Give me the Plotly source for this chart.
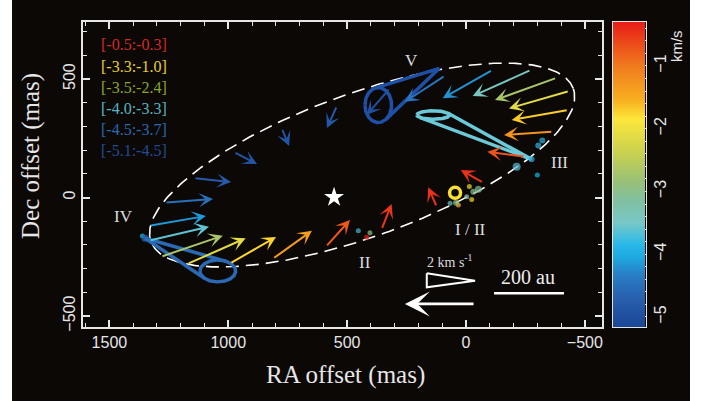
import numpy as np
import plotly.graph_objects as go

# ---------------- data ----------------
ARROW_TAIL_RA = [976, 1144, 1266, 1332, 1333, 1283, 1173, 993, 813, 590, 775, 543,
                 320, 88, -111, -273, -381, -434, -430, -365, -248, -73, 123, 355]
ARROW_TAIL_DEC = [192, 82, -22, -119, -182, -250, -281, -278, -259, -208, 292, 386,
                  461, 514, 538, 538, 505, 449, 369, 278, 172, 62, -39, -134]
ARROW_HEAD_RA = [879, 988, 1064, 1094, 1081, 1023, 927, 799, 648, 488, 744, 585,
                 418, 257, 98, -28, -122, -181, -192, -160, -90, 22, 159, 313]
ARROW_HEAD_DEC = [141, 65, -6, -78, -123, -161, -172, -167, -140, -95, 217, 293,
                  348, 404, 419, 428, 411, 376, 327, 264, 193, 116, 43, -27]
ARROW_VLSR = [-4.9, -4.8, -4.5, -4.15, -3.6, -2.7, -2.1, -1.75, -1.35, -0.75, -4.9, -4.85,
              -5.0, -4.45, -4.2, -3.4, -2.7, -2.1, -1.7, -1.25, -0.7, -0.45, -0.45, -0.5]

DOT_RA = [-321, -304, -300, -213, -276, 453, 404, 418, 1361, 1350,
          -14, -24, 32, 67, 42, -52, -31, -3]
DOT_DEC = [240, 219, 95, 130, 161, -140, -149, -168, -162, -172,
           46, -8, -32, -24, -22, 35, 24, 3]
DOT_COLOR = ["#30b0e0", "#30b0e0", "#10b8ea", "#58b8d0", "#30a8d8", "#40b8d8", "#90c080",
             "#e82018", "#10c0f0", "#2a6ab5", "#f0d830", "#f0d830", "#f0b828", "#6cc0c0",
             "#90c080", "#80b890", "#88c090", "#90c8b0"]
DOT_SIZE = [6, 6, 5, 8, 6, 5, 5, 5, 5, 7, 5, 5, 5, 5, 6, 7, 6, 5]

RING_RA, RING_DEC = [46], [20]
STAR_RA, STAR_DEC = [555], [1]

# loops: centre RA, centre Dec, half-width (mas), half-height (mas), tip RA, tip Dec, colour
LOOP_NAMES = ["V", "III", "IV"]
LOOP_CRA = [369, 138, 1044]
LOOP_CDEC = [390, 348, -310]
LOOP_RX = [56, 69, 75]
LOOP_RY = [74, 18, 46]
LOOP_TIP_RA = [112, -276, 1350]
LOOP_TIP_DEC = [545, 161, -172]
LOOP_COLOR = ["#1f50a8", "#6ccad8", "#2a6ab5"]

# fitted ring (dashed ellipse)
RING_CENTER = (437, 137)
RING_SEMI_AXES = (945, 302)
RING_PA_DEG = 20

REGION_LABELS = ["V", "III", "IV", "II", "I / II"]
REGION_RA = [228, -395, 1441, 425, -17]
REGION_DEC = [580, 148, -81, -273, -133]

LEGEND_LABELS = ["[-0.5:-0.3]", "[-3.3:-1.0]", "[-3.5:-2.4]", "[-4.0:-3.3]", "[-4.5:-3.7]", "[-5.1:-4.5]"]
LEGEND_COLORS = ["#d42a20", "#e6d22c", "#8aa628", "#5ab4c4", "#2a6ab4", "#214c94"]

CBAR_MIN, CBAR_MAX = -5.16, -0.30
CS_V = [-5.16, -4.7, -4.35, -4.05, -3.85, -3.5, -3.15, -2.85, -2.4, -1.85, -1.55, -1.0, -0.65, -0.30]
CS_RGB = [(26, 70, 150), (40, 96, 174), (42, 124, 196), (30, 168, 224), (40, 184, 232),
          (120, 200, 200), (128, 192, 160), (152, 192, 120), (200, 208, 80), (252, 230, 58),
          (248, 176, 32), (240, 122, 30), (236, 76, 26), (232, 28, 24)]

X_RANGE = [1611, -572]
Y_RANGE = [-546.4, 740.5]

# ---------------- helpers ----------------
colorscale = [[(v - CBAR_MIN) / (CBAR_MAX - CBAR_MIN), "rgb(%d,%d,%d)" % c] for v, c in zip(CS_V, CS_RGB)]
colorscale[0][0] = 0.0
colorscale[-1][0] = 1.0


def vel_color(v):
    r = np.interp(v, CS_V, [c[0] for c in CS_RGB])
    g = np.interp(v, CS_V, [c[1] for c in CS_RGB])
    b = np.interp(v, CS_V, [c[2] for c in CS_RGB])
    return "rgb(%d,%d,%d)" % (round(r), round(g), round(b))


SERIF = "Liberation Serif, Times New Roman, serif"
SANS = "Liberation Sans, Arial, sans-serif"
BG = "#0c0806"
FG = "#e6e6e6"

fig = go.Figure()

# dashed ellipse
t = np.linspace(0, 2 * np.pi, 400)
th = np.radians(RING_PA_DEG)
a, b = RING_SEMI_AXES
ex = RING_CENTER[0] - (a * np.cos(th) * np.cos(t) - b * np.sin(th) * np.sin(t))
ey = RING_CENTER[1] + (a * np.sin(th) * np.cos(t) + b * np.cos(th) * np.sin(t))
fig.add_trace(go.Scatter(x=ex, y=ey, mode="lines", line=dict(color="white", width=1.6, dash="13px,7px"),
                         hoverinfo="skip", showlegend=False))

# teardrop loops
for i in range(len(LOOP_NAMES)):
    tt = np.linspace(0, 2 * np.pi, 200)
    lx = LOOP_CRA[i] + LOOP_RX[i] * np.cos(tt)
    ly = LOOP_CDEC[i] + LOOP_RY[i] * np.sin(tt)
    tx, ty = LOOP_TIP_RA[i], LOOP_TIP_DEC[i]
    ang_c = np.arctan2(LOOP_CDEC[i] - ty, LOOP_CRA[i] - tx)
    ang = np.angle(np.exp(1j * (np.arctan2(ly - ty, lx - tx) - ang_c)))
    i1, i2 = int(np.argmax(ang)), int(np.argmin(ang))
    xs = list(lx) + [None, tx, lx[i1], None, tx, lx[i2]]
    ys = list(ly) + [None, ty, ly[i1], None, ty, ly[i2]]
    fig.add_trace(go.Scatter(x=xs, y=ys, mode="lines", line=dict(color=LOOP_COLOR[i], width=3.5),
                             hoverinfo="skip", showlegend=False))

# dots
fig.add_trace(go.Scatter(x=DOT_RA, y=DOT_DEC, mode="markers",
                         marker=dict(color=DOT_COLOR, size=DOT_SIZE, line=dict(width=0)),
                         hoverinfo="skip", showlegend=False))
fig.add_trace(go.Scatter(x=RING_RA, y=RING_DEC, mode="markers",
                         marker=dict(symbol="circle-open", size=11, color="#f8e030", line=dict(width=3.5)),
                         hoverinfo="skip", showlegend=False))
fig.add_trace(go.Scatter(x=STAR_RA, y=STAR_DEC, mode="markers",
                         marker=dict(symbol="star", size=15, color="white", line=dict(width=0)),
                         hoverinfo="skip", showlegend=False))

# scale items: triangle, 200 au bar
TRI_RA = [165, 165, -38, 165]
TRI_DEC = [-320, -379, -351, -320]
fig.add_trace(go.Scatter(x=TRI_RA, y=TRI_DEC, mode="lines", line=dict(color="white", width=2),
                         hoverinfo="skip", showlegend=False))
BAR_RA = [-118, -412]
BAR_DEC = [-404, -404]
fig.add_trace(go.Scatter(x=BAR_RA, y=BAR_DEC, mode="lines", line=dict(color="white", width=2.6),
                         hoverinfo="skip", showlegend=False))

# colorbar carrier
fig.add_trace(go.Scatter(x=ARROW_TAIL_RA, y=ARROW_TAIL_DEC, mode="markers",
                         marker=dict(color=ARROW_VLSR, colorscale=colorscale, cmin=CBAR_MIN, cmax=CBAR_MAX,
                                     size=1, opacity=0,
                                     showscale=True,
                                     colorbar=dict(x=0.8943, xanchor="left", xpad=0, ypad=0,
                                                   y=0.5, yanchor="middle", len=1, lenmode="fraction",
                                                   thickness=32.4, thicknessmode="pixels",
                                                   outlinewidth=0, ticks="", showticklabels=False)),
                         hoverinfo="skip", showlegend=False))
# axis carrying the colorbar ticks
fig.add_trace(go.Scatter(x=[0.5], y=[-3], xaxis="x2", yaxis="y2", mode="markers",
                         marker=dict(size=1, opacity=0), hoverinfo="skip", showlegend=False))

annotations = []
for i in range(len(ARROW_VLSR)):
    annotations.append(dict(x=ARROW_HEAD_RA[i], y=ARROW_HEAD_DEC[i], ax=ARROW_TAIL_RA[i], ay=ARROW_TAIL_DEC[i],
                            xref="x", yref="y", axref="x", ayref="y", text="", showarrow=True,
                            arrowhead=3, arrowsize=1.2, arrowwidth=2, standoff=0,
                            arrowcolor=vel_color(ARROW_VLSR[i])))
# white reference arrow
SCALE_ARROW_TAIL = (-38, -449)
SCALE_ARROW_HEAD = (257, -449)
annotations.append(dict(x=SCALE_ARROW_HEAD[0], y=SCALE_ARROW_HEAD[1], ax=SCALE_ARROW_TAIL[0], ay=SCALE_ARROW_TAIL[1],
                        xref="x", yref="y", axref="x", ayref="y", text="", showarrow=True,
                        arrowhead=3, arrowsize=1.6, arrowwidth=2.6, standoff=0, arrowcolor="white"))

for lab, xr, yr in zip(REGION_LABELS, REGION_RA, REGION_DEC):
    annotations.append(dict(x=xr, y=yr, xref="x", yref="y", text=lab, showarrow=False,
                            xanchor="center", yanchor="middle",
                            font=dict(family=SERIF, size=17, color="#dcdcdc")))
annotations.append(dict(x=67, y=-268, xref="x", yref="y", text="2 km s<sup>-1</sup>", showarrow=False,
                        xanchor="center", yanchor="middle",
                        font=dict(family=SERIF, size=14, color="#dcdcdc")))
annotations.append(dict(x=-262, y=-334, xref="x", yref="y", text="200 au", showarrow=False,
                        xanchor="center", yanchor="middle",
                        font=dict(family=SERIF, size=20, color="#ececec")))

for k, (lab, col) in enumerate(zip(LEGEND_LABELS, LEGEND_COLORS)):
    annotations.append(dict(x=0.027, y=0.9246 - k * 0.0689, xref="paper", yref="paper", text=lab,
                            xanchor="left", yanchor="middle", showarrow=False,
                            font=dict(family=SERIF, size=16, color=col)))

annotations.append(dict(x=0.4435, y=-0.157, xref="paper", yref="paper", text="RA offset (mas)",
                        xanchor="center", yanchor="middle",
                        showarrow=False, font=dict(family=SERIF, size=25, color=FG)))
annotations.append(dict(x=-0.0877, y=0.5607, xref="paper", yref="paper", text="Dec offset (mas)",
                        xanchor="center", yanchor="middle",
                        textangle=-90, showarrow=False, font=dict(family=SERIF, size=25, color=FG)))
annotations.append(dict(x=1.0, y=0.921, xref="paper", yref="paper", text="km/s",
                        xanchor="center", yanchor="middle",
                        textangle=-90, showarrow=False, font=dict(family=SANS, size=15, color=FG)))

axis_common = dict(showgrid=False, zeroline=False, showline=True, linecolor=FG, linewidth=1.5,
                   ticks="inside", ticklen=7, tickwidth=1.5, tickcolor=FG, mirror="ticks", automargin=False,
                   tickfont=dict(family=SANS, size=16, color=FG),
                   minor=dict(ticks="inside", ticklen=4, tickwidth=1.2, tickcolor=FG, dtick=100, showgrid=False))

fig.update_layout(
    width=706, height=401,
    margin=dict(l=83, r=30, t=22, b=74, autoexpand=False),
    paper_bgcolor="white", plot_bgcolor=BG,
    xaxis=dict(range=X_RANGE, domain=[0, 0.8752], dtick=500, tick0=0, **axis_common),
    yaxis=dict(range=Y_RANGE, domain=[0, 1], dtick=500, tick0=0, tickangle=-90, **axis_common),
    xaxis2=dict(domain=[0.8943, 0.9489], range=[0, 1], anchor="y2", showgrid=False, zeroline=False,
                automargin=False,
                showline=True, mirror=True, linecolor=FG, linewidth=1.2, ticks="", showticklabels=False),
    yaxis2=dict(domain=[0, 1], range=[CBAR_MIN, CBAR_MAX], anchor="x2", side="right", showgrid=False,
                automargin=False,
                zeroline=False, showline=True, mirror="ticks", linecolor=FG, linewidth=1.2,
                ticks="inside", ticklen=4, tickwidth=1.2, tickcolor=FG, dtick=1, tick0=0, tickangle=-90,
                tickfont=dict(family=SANS, size=16, color=FG),
                minor=dict(ticks="inside", ticklen=4, tickwidth=1.2, tickcolor=FG, dtick=0.2, tick0=0,
                           showgrid=False)),
    annotations=annotations,
    shapes=[dict(type="rect", xref="paper", yref="paper", x0=-0.1197, x1=1.0236, y0=-0.2426, y1=1.0721,
                 fillcolor=BG, line=dict(width=0), layer="below")],
)

fig.write_html("out.html", config={"displayModeBar": False},
               post_script="document.body.style.margin='0px';document.body.style.overflow='hidden';")
